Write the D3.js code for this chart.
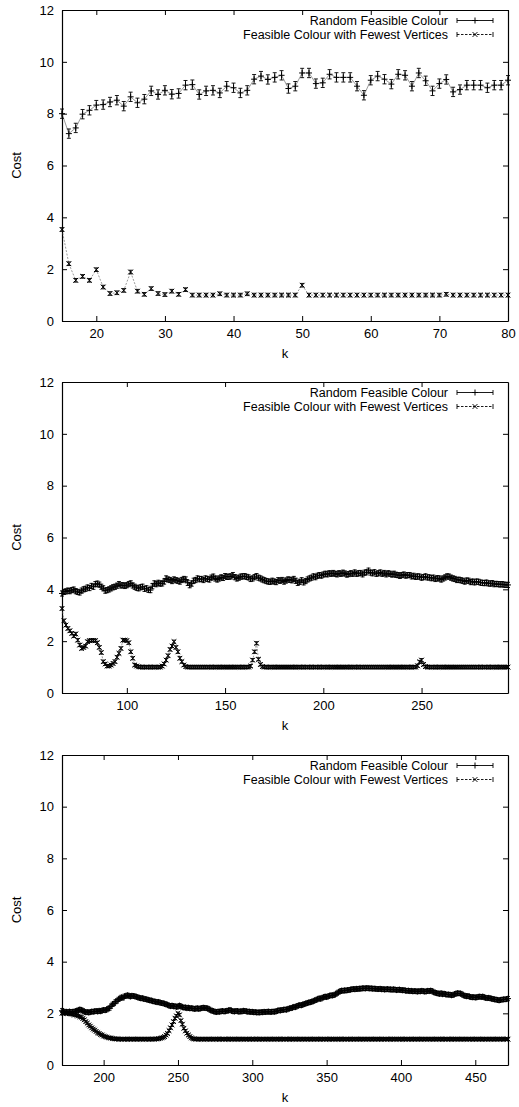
<!DOCTYPE html>
<html>
<head>
<meta charset="utf-8">
<script src="https://cdn.jsdelivr.net/npm/d3@7.9.0/dist/d3.min.js"></script>
<style>
  body { margin: 0; background: #fff; }
  svg { display: block; font-family: "Liberation Sans", Arial, sans-serif; }
</style>
</head>
<body>
<svg id="chart" width="519" height="1107"></svg>
<script>
// legend labels
const seriesNames = ['Random Feasible Colour', 'Feasible Colour with Fewest Vertices'];
const yTicks = [0, 2, 4, 6, 8, 10, 12];

// panel 1 : k = 15..80
const p1K = d3.range(15, 81);
const p1Ticks = [20, 30, 40, 50, 60, 70, 80];
const p1Random = [
  8.0, 7.23, 7.45, 7.98, 8.13, 8.33, 8.35, 8.45, 8.52, 8.29,
  8.65, 8.42, 8.56, 8.88, 8.74, 8.9, 8.75, 8.78, 9.1, 9.12,
  8.74, 8.88, 8.9, 8.8, 9.06, 9.0, 8.8, 8.9, 9.33, 9.45,
  9.32, 9.4, 9.48, 8.97, 9.06, 9.57, 9.57, 9.16, 9.19, 9.52,
  9.4, 9.4, 9.4, 9.06, 8.71, 9.29, 9.45, 9.33, 9.14, 9.52,
  9.48, 9.06, 9.57, 9.27, 8.88, 9.16, 9.32, 8.84, 8.93, 9.1,
  9.1, 9.1, 9.0, 9.1, 9.1, 9.29
];
const p1Fewest = [
  3.53, 2.21, 1.57, 1.72, 1.57, 1.98, 1.31, 1.06, 1.09, 1.18,
  1.89, 1.15, 1.03, 1.25, 1.06, 1.02, 1.15, 1.03, 1.21, 1.0,
  1, 1, 1, 1.05, 1, 1, 1, 1.05, 1, 1,
  1, 1, 1, 1, 1, 1.38, 1, 1, 1, 1,
  1, 1, 1, 1, 1, 1, 1, 1, 1, 1,
  1, 1, 1, 1, 1, 1, 1.03, 1, 1, 1,
  1, 1, 1, 1, 1, 1
];
const p1Err = [0.18, 0.07];

// panel 2 : k = 67..294
const p2K = d3.range(67, 295);
const p2Ticks = [100, 150, 200, 250];
const p2Random = [
  3.84, 3.9, 3.92, 3.95, 3.93, 3.97, 3.99, 3.93, 3.9, 3.88,
  3.95, 4.0, 4.02, 4.07, 4.05, 4.13, 4.1, 4.2, 4.22, 4.18,
  4.1, 4.04, 3.95, 3.97, 4.0, 4.04, 4.08, 4.1, 4.14, 4.2,
  4.15, 4.16, 4.13, 4.16, 4.2, 4.23, 4.15, 4.1, 4.06, 4.04,
  4.08, 4.1, 4.02, 4.04, 3.98, 3.97, 4.12, 4.23, 4.2, 4.25,
  4.22, 4.23, 4.3, 4.42, 4.38, 4.36, 4.32, 4.38, 4.35, 4.33,
  4.3, 4.36, 4.4, 4.38, 4.25, 4.16, 4.22, 4.33, 4.36, 4.42,
  4.39, 4.4, 4.36, 4.42, 4.4, 4.38, 4.45, 4.49, 4.42, 4.38,
  4.42, 4.46, 4.44, 4.51, 4.48, 4.49, 4.5, 4.55, 4.47, 4.42,
  4.45, 4.49, 4.5, 4.51, 4.48, 4.46, 4.4, 4.42, 4.47, 4.51,
  4.45, 4.42, 4.38, 4.35, 4.32, 4.3, 4.29, 4.33, 4.3, 4.28,
  4.35, 4.33, 4.36, 4.3, 4.34, 4.38, 4.37, 4.35, 4.4, 4.33,
  4.25, 4.29, 4.35, 4.27, 4.32, 4.38, 4.42, 4.45, 4.5, 4.47,
  4.52, 4.55, 4.53, 4.57, 4.6, 4.58, 4.62, 4.6, 4.63, 4.6,
  4.58, 4.62, 4.6, 4.64, 4.61, 4.57, 4.59, 4.62, 4.6, 4.65,
  4.6, 4.62, 4.63, 4.58, 4.64, 4.66, 4.72, 4.65, 4.62, 4.66,
  4.6, 4.62, 4.65, 4.6, 4.63, 4.58, 4.62, 4.6, 4.57, 4.6,
  4.56, 4.55, 4.52, 4.55, 4.57, 4.53, 4.55, 4.55, 4.5, 4.52,
  4.48, 4.5, 4.49, 4.45, 4.47, 4.5, 4.46, 4.46, 4.43, 4.45,
  4.4, 4.43, 4.42, 4.38, 4.42, 4.46, 4.5, 4.49, 4.45, 4.42,
  4.4, 4.36, 4.37, 4.35, 4.33, 4.3, 4.34, 4.33, 4.28, 4.3,
  4.27, 4.3, 4.29, 4.26, 4.25, 4.24, 4.26, 4.23, 4.22, 4.24,
  4.2, 4.21, 4.2, 4.19, 4.2, 4.18, 4.17, 4.17
];
const p2Fewest = [
  3.26, 2.79, 2.62, 2.49, 2.40, 2.30, 2.20, 2.28, 2.04, 1.85,
  1.72, 1.76, 1.81, 1.98, 2.02, 2.03, 2.03, 2.02, 1.94, 1.76,
  1.56, 1.21, 1.12, 1.04, 1.04, 1.08, 1.14, 1.21, 1.38, 1.53,
  1.72, 2.04, 2.04, 2.02, 1.94, 1.59, 1.34, 1.08, 1.04, 1.01,
  1, 1, 1, 1, 1, 1, 1, 1, 1, 1,
  1, 1.04, 1.12, 1.27, 1.44, 1.68, 1.81, 1.98, 1.76, 1.59,
  1.34, 1.21, 1.08, 1.02, 1, 1, 1, 1, 1, 1,
  1, 1, 1, 1, 1, 1, 1, 1, 1, 1,
  1, 1, 1, 1, 1, 1, 1, 1, 1, 1,
  1, 1, 1, 1, 1, 1, 1.04, 1.27, 1.59, 1.92,
  1.3, 1.1, 1.02, 1, 1, 1, 1, 1, 1, 1,
  1, 1, 1, 1, 1, 1, 1, 1, 1, 1,
  1, 1, 1, 1, 1, 1, 1, 1, 1, 1,
  1, 1, 1, 1, 1, 1, 1, 1, 1, 1,
  1, 1, 1, 1, 1, 1, 1, 1, 1, 1,
  1, 1, 1, 1, 1, 1, 1, 1, 1, 1,
  1, 1, 1, 1, 1, 1, 1, 1, 1, 1,
  1, 1, 1, 1, 1, 1, 1, 1, 1, 1,
  1, 1.05, 1.2, 1.27, 1.1, 1.02, 1, 1, 1, 1,
  1, 1, 1, 1, 1, 1, 1, 1, 1, 1,
  1, 1, 1, 1, 1, 1, 1, 1, 1, 1,
  1, 1, 1, 1, 1, 1, 1, 1, 1, 1,
  1, 1, 1, 1, 1, 1, 1, 1
];
const p2Err = [0.1, 0.06];

// panel 3 : k = 172..472
const p3K = d3.range(172, 473);
const p3Ticks = [200, 250, 300, 350, 400, 450];
const p3Random = [
  2.1, 2.08, 2.05, 2.06, 2.04, 2.07, 2.05, 2.06, 2.06, 2.08,
  2.1, 2.12, 2.15, 2.13, 2.1, 2.07, 2.04, 2.05, 2.03, 2.05,
  2.07, 2.06, 2.08, 2.09, 2.07, 2.1, 2.08, 2.11, 2.13, 2.12,
  2.14, 2.18, 2.2, 2.28, 2.35, 2.38, 2.45, 2.48, 2.54, 2.58,
  2.62, 2.6, 2.66, 2.67, 2.7, 2.68, 2.65, 2.68, 2.67, 2.66,
  2.64, 2.62, 2.6, 2.58, 2.59, 2.56, 2.55, 2.54, 2.52, 2.5,
  2.5, 2.47, 2.46, 2.45, 2.43, 2.44, 2.41, 2.4, 2.39, 2.37,
  2.35, 2.33, 2.3, 2.28, 2.3, 2.27, 2.28, 2.25, 2.26, 2.3,
  2.27, 2.24, 2.22, 2.23, 2.2, 2.22, 2.19, 2.2, 2.19, 2.17,
  2.18, 2.2, 2.17, 2.19, 2.2, 2.22, 2.21, 2.2, 2.19, 2.16,
  2.12, 2.1, 2.08, 2.06, 2.05, 2.07, 2.06, 2.08, 2.09, 2.07,
  2.08, 2.1, 2.11, 2.13, 2.1, 2.08, 2.07, 2.09, 2.09, 2.06,
  2.08, 2.07, 2.1, 2.09, 2.08, 2.06, 2.07, 2.05, 2.06, 2.04,
  2.05, 2.03, 2.04, 2.03, 2.05, 2.04, 2.06, 2.05, 2.06, 2.07,
  2.05, 2.06, 2.07, 2.06, 2.08, 2.1, 2.12, 2.11, 2.13, 2.14,
  2.15, 2.14, 2.17, 2.19, 2.2, 2.22, 2.25, 2.24, 2.28, 2.3,
  2.32, 2.31, 2.34, 2.36, 2.38, 2.4, 2.42, 2.43, 2.45, 2.47,
  2.5, 2.52, 2.55, 2.58, 2.56, 2.6, 2.62, 2.65, 2.63, 2.66,
  2.68, 2.7, 2.69, 2.71, 2.74, 2.78, 2.82, 2.85, 2.88, 2.87,
  2.89, 2.88, 2.9, 2.9, 2.92, 2.93, 2.94, 2.93, 2.95, 2.94,
  2.96, 2.95, 2.97, 2.97, 2.96, 2.98, 2.97, 2.96, 2.97, 2.95,
  2.96, 2.95, 2.94, 2.94, 2.95, 2.93, 2.94, 2.92, 2.93, 2.94,
  2.92, 2.93, 2.91, 2.93, 2.92, 2.9, 2.91, 2.92, 2.9, 2.89,
  2.9, 2.88, 2.87, 2.88, 2.86, 2.87, 2.85, 2.86, 2.86, 2.84,
  2.86, 2.85, 2.87, 2.86, 2.84, 2.85, 2.87, 2.86, 2.88, 2.86,
  2.82, 2.8, 2.78, 2.77, 2.75, 2.78, 2.74, 2.76, 2.74, 2.72,
  2.73, 2.72, 2.7, 2.71, 2.74, 2.76, 2.78, 2.77, 2.77, 2.74,
  2.7, 2.68, 2.66, 2.67, 2.65, 2.63, 2.62, 2.63, 2.61, 2.62,
  2.64, 2.65, 2.63, 2.65, 2.62, 2.6, 2.59, 2.6, 2.58, 2.57,
  2.55, 2.54, 2.53, 2.52, 2.5, 2.52, 2.53, 2.54, 2.54, 2.55,
  2.57
];
const p3Fewest = [
  2.0, 2.0, 2.01, 2.0, 2.0, 1.99, 1.98, 1.97, 1.95, 1.94,
  1.92, 1.9, 1.87, 1.85, 1.8, 1.75, 1.68, 1.62, 1.55, 1.5,
  1.44, 1.39, 1.35, 1.3, 1.25, 1.22, 1.18, 1.16, 1.12, 1.1,
  1.08, 1.06, 1.05, 1.04, 1.02, 1.02, 1.01, 1.01, 1, 1,
  1, 1, 1, 1, 1, 1, 1, 1, 1, 1,
  1, 1, 1, 1, 1, 1, 1, 1, 1, 1,
  1, 1, 1, 1.01, 1.01, 1.02, 1.03, 1.05, 1.07, 1.1,
  1.16, 1.22, 1.33, 1.44, 1.55, 1.68, 1.81, 1.9, 2.0, 1.94,
  1.72, 1.58, 1.42, 1.32, 1.23, 1.16, 1.1, 1.05, 1.02, 1.01,
  1, 1, 1, 1, 1, 1, 1, 1, 1, 1,
  1, 1, 1, 1, 1, 1, 1, 1, 1, 1,
  1, 1, 1, 1, 1, 1, 1, 1, 1, 1,
  1, 1, 1, 1, 1, 1, 1, 1, 1, 1,
  1, 1, 1, 1, 1, 1, 1, 1, 1, 1,
  1, 1, 1, 1, 1, 1, 1, 1, 1, 1,
  1, 1, 1, 1, 1, 1, 1, 1, 1, 1,
  1, 1, 1, 1, 1, 1, 1, 1, 1, 1,
  1, 1, 1, 1, 1, 1, 1, 1, 1, 1,
  1, 1, 1, 1, 1, 1, 1, 1, 1, 1,
  1, 1, 1, 1, 1, 1, 1, 1, 1, 1,
  1, 1, 1, 1, 1, 1, 1, 1, 1, 1,
  1, 1, 1, 1, 1, 1, 1, 1, 1, 1,
  1, 1, 1, 1, 1, 1, 1, 1, 1, 1,
  1, 1, 1, 1, 1, 1, 1, 1, 1, 1,
  1, 1, 1, 1, 1, 1, 1, 1, 1, 1,
  1, 1, 1, 1, 1, 1, 1, 1, 1, 1,
  1, 1, 1, 1, 1, 1, 1, 1, 1, 1,
  1, 1, 1, 1, 1, 1, 1, 1, 1, 1,
  1, 1, 1, 1, 1, 1, 1, 1, 1, 1,
  1, 1, 1, 1, 1, 1, 1, 1, 1, 1,
  1
];
const p3Err = [0.08, 0.05];

const panels = [
  { top: 10, bottom: 321, domain: [15, 80], ticks: p1Ticks, k: p1K, series: [p1Random, p1Fewest], err: p1Err },
  { top: 382, bottom: 693, domain: [67, 294], ticks: p2Ticks, k: p2K, series: [p2Random, p2Fewest], err: p2Err },
  { top: 755, bottom: 1065, domain: [172, 472], ticks: p3Ticks, k: p3K, series: [p3Random, p3Fewest], err: p3Err }
];

const left = 62, right = 508;
const svg = d3.select('#chart');

// gnuplot style point glyphs
function plusPath(x, y) { const s = 3; return `M${x - s},${y}H${x + s}M${x},${y - s}V${y + s}`; }
function crossPath(x, y) { const s = 2.4; return `M${x - s},${y - s}L${x + s},${y + s}M${x - s},${y + s}L${x + s},${y - s}`; }
const glyphs = [plusPath, crossPath];

panels.forEach(p => {
  const x = d3.scaleLinear().domain(p.domain).range([left, right]);
  const y = d3.scaleLinear().domain([0, 12]).range([p.bottom, p.top]);
  const g = svg.append('g');

  // frame + ticks (inward, mirrored on all sides)
  const ax = (sel) => sel.selectAll('text').attr('font-size', 13).attr('fill', '#000');
  g.append('g').attr('transform', `translate(0,${p.bottom})`)
    .call(d3.axisBottom(x).tickValues(p.ticks).tickSizeInner(-5).tickSizeOuter(0).tickPadding(8))
    .call(ax);
  g.append('g').attr('transform', `translate(0,${p.top})`)
    .call(d3.axisTop(x).tickValues(p.ticks).tickSizeInner(-5).tickSizeOuter(0).tickFormat(''));
  g.append('g').attr('transform', `translate(${left},0)`)
    .call(d3.axisLeft(y).tickValues(yTicks).tickSizeInner(-5).tickSizeOuter(0).tickPadding(8))
    .call(ax);
  g.append('g').attr('transform', `translate(${right},0)`)
    .call(d3.axisRight(y).tickValues(yTicks).tickSizeInner(-5).tickSizeOuter(0).tickFormat(''));
  g.selectAll('.domain').attr('stroke', '#000').attr('stroke-width', 1.2);
  g.selectAll('.tick line').attr('stroke', '#000');
  g.selectAll('text').attr('font-family', null);

  // axis titles
  g.append('text').attr('x', (left + right) / 2).attr('y', p.bottom + 36.5)
    .attr('text-anchor', 'middle').attr('font-size', 13).text('k');
  g.append('text').attr('transform', `translate(21,${(p.top + p.bottom) / 2}) rotate(-90)`)
    .attr('text-anchor', 'middle').attr('font-size', 13).text('Cost');

  // series: error bars, connecting line, points
  p.series.forEach((vals, si) => {
    const data = vals.map((v, i) => ({ k: p.k[i], v, e: p.err[si] }));
    const line = d3.line().x(d => x(d.k)).y(d => y(d.v));
    g.append('path').datum(data).attr('d', line)
      .attr('fill', 'none').attr('stroke', '#555').attr('stroke-width', 0.6)
      .attr('stroke-dasharray', si === 0 ? null : '2,1.5');
    g.append('path')
      .attr('d', data.map(d => {
        const cx = x(d.k), y0 = y(d.v - d.e), y1 = y(d.v + d.e);
        return `M${cx},${y0}V${y1}M${cx - 2},${y0}H${cx + 2}M${cx - 2},${y1}H${cx + 2}`;
      }).join(''))
      .attr('fill', 'none').attr('stroke', '#000').attr('stroke-width', 0.9);
    g.append('path')
      .attr('d', data.map(d => glyphs[si](x(d.k), y(d.v))).join(''))
      .attr('fill', 'none').attr('stroke', '#000').attr('stroke-width', 1);
  });

  // legend
  seriesNames.forEach((name, si) => {
    const ly = p.top + 10.5 + si * 14;
    g.append('text').attr('x', 448).attr('y', ly).attr('dy', '0.35em')
      .attr('text-anchor', 'end').attr('font-size', 12.5).text(name);
    g.append('path').attr('d', `M457,${ly}H493`)
      .attr('stroke', '#000').attr('stroke-width', 0.9)
      .attr('stroke-dasharray', si === 0 ? null : '2.5,1.5');
    g.append('path').attr('d', `M457,${ly - 2.5}V${ly + 2.5}M493,${ly - 2.5}V${ly + 2.5}`)
      .attr('stroke', '#000').attr('stroke-width', 0.9);
    g.append('path').attr('d', glyphs[si](475, ly))
      .attr('fill', 'none').attr('stroke', '#000').attr('stroke-width', 1);
  });
});
</script>
</body>
</html>
